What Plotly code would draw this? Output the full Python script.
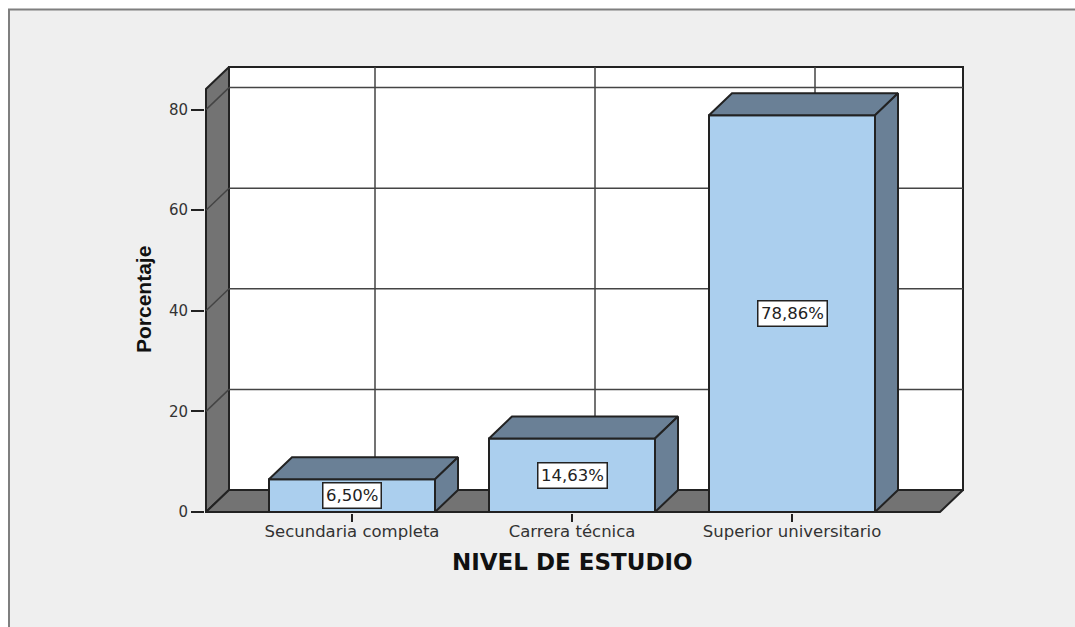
import plotly.graph_objects as go

categorias = ["Secundaria completa", "Carrera técnica", "Superior universitario"]
posiciones = [0, 1, 2]
porcentajes = [6.50, 14.63, 78.86]
y_ticks = [0, 20, 40, 60, 80]

W, H = 1075, 627
LEFT, RIGHT, TOP, BOTTOM = 206, 963, 67, 512
PAD = 1        # keeps the outer edges from being clipped by the plot area
PX_X = 220.0   # pixels per category
PX_Y = 5.03    # pixels per percent
X0 = (LEFT - 352) / PX_X
X1 = (RIGHT - 352) / PX_X
Y1 = (BOTTOM - TOP) / PX_Y
DX = 23 / PX_X  # depth of the 3D effect
DY = 22 / PX_Y
BAR_W = 166 / PX_X
FLOOR_X = X1 - DX
WALL_TOP = Y1 - DY

EDGE = "#222222"
GRID = "#444444"
WALL = "#737373"
FRONT = "#abcfee"
SHADE = "#6a8096"
FONT = "DejaVu Sans"


def poly(xs, ys, fill, layer="below", width=2):
    return dict(
        type="path",
        path="M " + " L ".join(f"{x},{y}" for x, y in zip(xs, ys)) + " Z",
        xref="x", yref="y",
        fillcolor=fill,
        line=dict(color=EDGE, width=width),
        layer=layer,
    )


def line(x0, y0, x1, y1):
    return dict(type="line", xref="x", yref="y", x0=x0, y0=y0, x1=x1, y1=y1,
                line=dict(color=GRID, width=1.5), layer="below")


def to_paper_x(px):
    return (px - (LEFT - PAD)) / (RIGHT - LEFT + 2 * PAD)


def to_paper_y(px):
    return (BOTTOM + PAD - px) / (BOTTOM - TOP + 2 * PAD)


shapes = [
    # grey panel behind the chart
    dict(type="rect", xref="paper", yref="paper", layer="below",
         x0=to_paper_x(9), x1=to_paper_x(W + 5), y0=to_paper_y(H + 5), y1=to_paper_y(9.5),
         fillcolor="#efefef", line=dict(color="#7f7f7f", width=2)),
    # back wall, side wall, floor
    poly([X0 + DX, X1, X1, X0 + DX], [DY, DY, Y1, Y1], "#ffffff"),
    poly([X0, X0 + DX, X0 + DX, X0], [0, DY, Y1, WALL_TOP], WALL),
    poly([X0, X0 + DX, X1, FLOOR_X], [0, DY, DY, 0], WALL),
]
for v in y_ticks[1:]:
    shapes.append(line(X0, v, X0 + DX, v + DY))
    shapes.append(line(X0 + DX, v + DY, X1, v + DY))
for p in posiciones:
    shapes.append(line(p + DX, DY, p + DX, Y1))

fig = go.Figure()
fig.add_trace(go.Bar(
    x=posiciones,
    y=porcentajes,
    width=BAR_W,
    marker=dict(color=FRONT, line=dict(color=EDGE, width=2)),
    hoverinfo="skip",
))
for p, v in zip(posiciones, porcentajes):
    l, r = p - BAR_W / 2, p + BAR_W / 2
    # top face
    fig.add_trace(go.Scatter(
        x=[l, l + DX, r + DX, r, l], y=[v, v + DY, v + DY, v, v],
        mode="lines", fill="toself", fillcolor=SHADE,
        line=dict(color=EDGE, width=2), hoverinfo="skip",
    ))
    # side face
    fig.add_trace(go.Scatter(
        x=[r, r + DX, r + DX, r, r], y=[0, DY, v + DY, v, 0],
        mode="lines", fill="toself", fillcolor=SHADE,
        line=dict(color=EDGE, width=2), hoverinfo="skip",
    ))

annotations = [
    dict(
        x=p, y=v / 2, xref="x", yref="y",
        text=f"{v:.2f}%".replace(".", ","),
        showarrow=False,
        font=dict(family=FONT, size=16.5, color="#222222"),
        bgcolor="#ffffff", bordercolor=EDGE, borderwidth=1.5, borderpad=2.5,
    )
    for p, v in zip(posiciones, porcentajes)
]
annotations.append(dict(
    x=posiciones[1], xref="x", y=to_paper_y(562), yref="paper",
    xanchor="center", yanchor="middle",
    text="<b>NIVEL DE ESTUDIO</b>", showarrow=False,
    font=dict(family=FONT, size=23, color="#111111"),
))
annotations.append(dict(
    x=to_paper_x(143), xref="paper", y=to_paper_y(300), yref="paper",
    xanchor="center", yanchor="middle",
    text="<b>Porcentaje</b>", showarrow=False, textangle=-90,
    font=dict(family="Liberation Sans", size=21, color="#111111"),
))

fig.update_layout(
    width=W, height=H, autosize=False,
    margin=dict(l=LEFT - PAD, r=W - RIGHT - PAD, t=TOP - PAD, b=H - BOTTOM - PAD, pad=0),
    paper_bgcolor="#ffffff",
    plot_bgcolor="rgba(0,0,0,0)",
    showlegend=False,
    shapes=shapes,
    annotations=annotations,
    font=dict(family=FONT, color="#222222"),
    xaxis=dict(
        range=[X0 - PAD / PX_X, X1 + PAD / PX_X],
        tickmode="array", tickvals=posiciones, ticktext=categorias,
        showgrid=False, zeroline=False, showline=False,
        ticks="outside", ticklen=8, tickwidth=2, tickcolor=EDGE,
        ticklabelstandoff=-5,
        tickfont=dict(family=FONT, size=16.5, color="#333333"),
    ),
    yaxis=dict(
        range=[-PAD / PX_Y, Y1 + PAD / PX_Y],
        tickmode="array", tickvals=y_ticks,
        showgrid=False, zeroline=False, showline=False,
        ticks="outside", ticklen=13, tickwidth=2, tickcolor=EDGE,
        tickfont=dict(family=FONT, size=15, color="#333333"),
    ),
)

fig.write_html(
    "out.html",
    config={"displayModeBar": False},
    post_script="document.body.style.margin='0';document.body.style.overflow='hidden';",
)
